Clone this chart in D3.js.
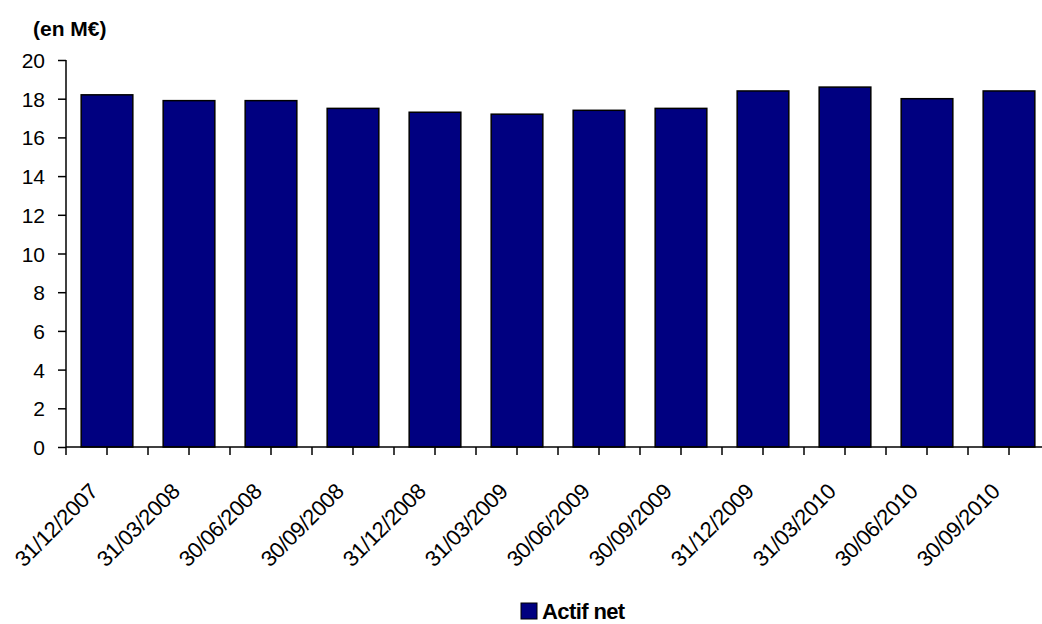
<!DOCTYPE html>
<html><head><meta charset="utf-8">
<script src="https://cdn.jsdelivr.net/npm/d3@7"></script>
<style>body{margin:0;background:#fff}svg{display:block;font-family:"Liberation Sans",Arial,sans-serif}</style>
</head><body><svg id="c" width="1042" height="624"></svg>
<script>
const categories = ["31/12/2007","31/03/2008","30/06/2008","30/09/2008","31/12/2008","31/03/2009","30/06/2009","30/09/2009","31/12/2009","31/03/2010","30/06/2010","30/09/2010"];
const actifNet = [18.2,17.9,17.9,17.5,17.3,17.2,17.4,17.5,18.4,18.6,18.0,18.4];
const yTicks = [0,2,4,6,8,10,12,14,16,18,20];
const seriesName = "Actif net";
const unitLabel = "(en M€)";

const svg = d3.select("#c");
const x = d3.scaleBand().domain(categories).range([66,1050]).paddingInner(0.37).paddingOuter(0.185);
const y = d3.scaleLinear().domain([0,20]).range([447,60]);

// bars
svg.append("g").selectAll("rect").data(actifNet).join("rect")
  .attr("x",(d,i)=>x(categories[i]))
  .attr("y",d=>y(d))
  .attr("width",x.bandwidth())
  .attr("height",d=>y(0)-y(d))
  .attr("fill","#000080").attr("stroke","#000").attr("stroke-width",1.5);

// y axis
const ya = svg.append("g").attr("transform","translate(66,0)")
  .call(d3.axisLeft(y).tickValues(yTicks).tickSize(8).tickPadding(13));
ya.selectAll("path,line").attr("stroke","#000").attr("stroke-width",1.5);
ya.select(".domain").attr("d","M0,60V447");
ya.selectAll("text").attr("font-size",21).attr("font-family","'Liberation Sans',Arial").attr("fill","#000").attr("dy","0.36em");

// x axis line & ticks (boundaries and centers)
const step = x.step();
const xa = svg.append("g");
xa.append("line").attr("x1",66).attr("x2",1050).attr("y1",y(0)).attr("y2",y(0)).attr("stroke","#000").attr("stroke-width",1.5);
const tickPos = [];
categories.forEach((c,i)=>{ tickPos.push(66+i*step); tickPos.push(x(c)+x.bandwidth()/2); });
xa.selectAll("line.t").data(tickPos).join("line").attr("class","t")
  .attr("x1",d=>d).attr("x2",d=>d).attr("y1",y(0)).attr("y2",y(0)+8)
  .attr("stroke","#000").attr("stroke-width",1.5);
xa.selectAll("text").data(categories).join("text")
  .attr("transform",c=>`translate(${x(c)+x.bandwidth()/2-8},${y(0)+46}) rotate(-45)`)
  .attr("text-anchor","end").attr("font-size",22).attr("letter-spacing",-0.4).attr("fill","#000")
  .text(c=>c);

// unit label
svg.append("text").attr("x",33).attr("y",36).attr("font-size",21).attr("font-weight","bold").text(unitLabel);

// legend
svg.append("rect").attr("x",521).attr("y",603).attr("width",16).attr("height",16).attr("fill","#000080").attr("stroke","#000").attr("stroke-width",1);
svg.append("text").attr("x",542).attr("y",619).attr("font-size",22).attr("font-weight","bold").attr("letter-spacing",-0.6).text(seriesName);
</script></body></html>
